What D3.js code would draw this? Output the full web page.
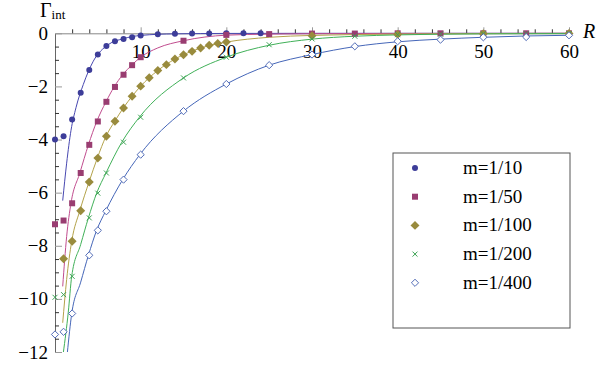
<!DOCTYPE html>
<html>
<head>
<meta charset="utf-8">
<script src="https://cdn.jsdelivr.net/npm/d3@7"></script>
</head>
<body style="margin:0">
<svg class="one"></svg>
<script>
// legend names
var labels = ["m=1/10","m=1/50","m=1/100","m=1/200","m=1/400"];

// data points
var blueX  = [0,1,2,3,4,5,6,7,8,9,10,12,14,16,18,20,22,24];
var blueY  = [-4.0,-3.88,-3.25,-2.24,-1.38,-0.80,-0.48,-0.30,-0.21,-0.15,-0.08,-0.04,-0.02,-0.01,-0.01,0,0,0];
var pinkX  = [0,1,2,3,4,5,6,7,8,9,10,15,20,25,30,35,40,45,50,55,60];
var pinkY  = [-7.19,-7.05,-6.40,-5.26,-4.2,-3.32,-2.58,-2.02,-1.56,-1.20,-0.90,-0.28,-0.06,-0.03,-0.01,-0.01,0,0,0,0,0];
var goldX  = [1,2,3,4,5,6,7,8,9,10,11,12,13,14,15,16,17,18,19,20,30,40,50,60];
var goldY  = [-8.49,-7.83,-6.68,-5.6,-4.7,-3.88,-3.31,-2.81,-2.37,-1.99,-1.67,-1.40,-1.18,-0.97,-0.81,-0.68,-0.55,-0.45,-0.38,-0.33,-0.09,-0.04,-0.02,-0.01];
var greenX = [0,1,2,4,5,6,8,10,15,20,25,30,35,40,45,50,55,60];
var greenY = [-9.94,-9.84,-9.15,-6.95,-6.02,-5.26,-4.1,-3.16,-1.68,-0.90,-0.43,-0.21,-0.11,-0.05,-0.03,-0.02,-0.01,-0.01];
var lblueX = [0,1,2,4,5,6,8,10,15,20,25,30,35,40,45,50,55,60];
var lblueY = [-11.34,-11.24,-10.55,-8.36,-7.42,-6.7,-5.51,-4.57,-2.93,-1.91,-1.2,-0.8,-0.49,-0.3,-0.24,-0.15,-0.14,-0.075];

// fitted curves
var blueFitX  = [0.9,1.36,1.87,2.45,3.3,4.47,6.2,8,10,14,20,30,60];
var blueFitY  = [-6.3,-4.89,-3.65,-2.8,-1.93,-1.05,-0.43,-0.2,-0.08,-0.02,-0.005,0,0];
var pinkFitX  = [0.9,1.36,1.87,2.9,3.9,4.87,5.95,6.9,7.9,8.95,10,12,15,20,25,30,40,60];
var pinkFitY  = [-9.53,-7.65,-6.39,-5.26,-4.2,-3.32,-2.58,-2.02,-1.56,-1.2,-0.9,-0.55,-0.28,-0.07,-0.03,-0.015,-0.005,0];
var goldFitX  = [0.9,1.36,1.95,2.9,3.97,4.94,5.95,7,8,9,10,12,14,16,18,20,25,30,40,50,60];
var goldFitY  = [-10.9,-9.27,-7.83,-6.68,-5.6,-4.7,-3.88,-3.3,-2.8,-2.37,-1.99,-1.40,-0.97,-0.67,-0.46,-0.33,-0.15,-0.08,-0.03,-0.01,0];
var greenFitX = [0.97,1.55,1.95,3,3.9,4.86,5.95,7.8,9.85,15,20,25,30,35,40,50,60];
var greenFitY = [-12.03,-10.5,-9.15,-7.95,-6.95,-6.02,-5.26,-4.1,-3.16,-1.68,-0.9,-0.45,-0.22,-0.11,-0.06,-0.02,-0.01];
var lblueFitX = [1.44,1.95,3,3.9,4.86,5.9,7.9,9.9,15,20,25,30,35,40,45,50,55,60];
var lblueFitY = [-12.03,-10.56,-9.37,-8.36,-7.42,-6.7,-5.51,-4.57,-2.93,-1.91,-1.2,-0.8,-0.5,-0.32,-0.22,-0.15,-0.1,-0.075];

var xTicks = [10,20,30,40,50,60];
var yTicks = [0,-2,-4,-6,-8,-10,-12];

var markColors = ["#3d3d99","#993d71","#998b3d","#3da354","#4a66b3"];
var lineColors = ["#4848b0","#c04c8e","#b3a24a","#40b058","#4566b8"];

var svg = d3.select(".one").attr("width",600).attr("height",375)
            .attr("font-family","Liberation Serif");

var xScale = d3.scaleLinear().domain([0,60]).range([55,569]);
var yScale = d3.scaleLinear().domain([-12,0]).range([352,33.3]);

// axes (drop d3's own sans-serif font attribute on the axis groups)
var xMinor = d3.range(2,60,2).filter(function(v){return v%10!=0;});
svg.append("g").attr("transform","translate(0,"+yScale(0)+")")
   .call(d3.axisTop(xScale).tickValues(xMinor).tickSize(4).tickFormat("").tickSizeOuter(0))
   .call(function(g){ g.select(".domain").attr("stroke","#888"); g.selectAll(".tick line").attr("stroke","#333"); });
svg.append("g").attr("transform","translate(0,"+yScale(0)+")")
   .call(d3.axisTop(xScale).tickValues(xTicks).tickSize(6).tickFormat(""))
   .call(function(g){ g.select(".domain").remove(); g.selectAll(".tick line").attr("stroke","#999"); });
svg.append("g").attr("transform","translate(0,"+yScale(0)+")")
   .call(d3.axisBottom(xScale).tickValues(xTicks).tickSize(0).tickPadding(11))
   .attr("font-family",null).attr("font-size",null)
   .call(function(g){ g.select(".domain").remove();
     g.selectAll("text").attr("fill","#000").attr("font-family","Liberation Serif").attr("font-size",19); });

var yMinor = d3.range(-11.5,0,0.5).filter(function(v){return v%2!=0;});
svg.append("g").attr("transform","translate("+xScale(0)+",0)")
   .call(d3.axisRight(yScale).tickValues(yMinor).tickSize(4).tickFormat("").tickSizeOuter(0))
   .call(function(g){ g.select(".domain").attr("stroke","#666"); g.selectAll(".tick line").attr("stroke","#333"); });
svg.append("g").attr("transform","translate("+xScale(0)+",0)")
   .call(d3.axisRight(yScale).tickValues(yTicks).tickSize(7).tickFormat(""))
   .call(function(g){ g.select(".domain").remove(); g.selectAll(".tick line").attr("stroke","#999"); });
svg.append("g").attr("transform","translate("+xScale(0)+",0)")
   .call(d3.axisLeft(yScale).tickValues(yTicks).tickSize(0).tickPadding(7).tickFormat(d3.format("d")))
   .attr("font-family",null).attr("font-size",null)
   .call(function(g){ g.select(".domain").remove();
     g.selectAll("text").attr("fill","#000").attr("font-family","Liberation Serif").attr("font-size",19); });

// axis titles
var gt = svg.append("text").attr("x",40).attr("y",17).attr("font-size",20).attr("font-family","Liberation Serif");
gt.append("tspan").text("Γ");
gt.append("tspan").attr("font-size",13).attr("dy",2).text("int");
svg.append("text").attr("x",583).attr("y",38).attr("font-size",20).attr("font-family","Liberation Serif")
   .attr("font-style","italic").text("R");

// clip for the curves
svg.append("clipPath").attr("id","plotclip").append("rect")
   .attr("x",xScale(0)).attr("y",yScale(0)-3).attr("width",xScale(60)-xScale(0)+2).attr("height",yScale(-12)-yScale(0)+3);

var fits = [[blueFitX,blueFitY],[pinkFitX,pinkFitY],[goldFitX,goldFitY],[greenFitX,greenFitY],[lblueFitX,lblueFitY]];
var pts  = [[blueX,blueY],[pinkX,pinkY],[goldX,goldY],[greenX,greenY],[lblueX,lblueY]];

var curveLine = d3.line().x(function(d){return xScale(d[0]);}).y(function(d){return yScale(d[1]);}).curve(d3.curveMonotoneX);

var curves = svg.append("g").attr("clip-path","url(#plotclip)");
fits.forEach(function(f,i){
  curves.append("path")
        .datum(d3.zip(f[0],f[1]))
        .attr("d",curveLine)
        .attr("fill","none")
        .attr("stroke",lineColors[i])
        .attr("stroke-width",1);
});

// marker drawing
var shapes = [
  function(g){ g.append("circle").attr("r",3).attr("fill",markColors[0]); },
  function(g){ g.append("rect").attr("x",-3).attr("y",-3).attr("width",6).attr("height",6).attr("fill",markColors[1]); },
  function(g){ g.append("path").attr("d",d3.symbol(d3.symbolSquare,40)()).attr("transform","rotate(45)").attr("fill",markColors[2]); },
  function(g){ g.append("path").attr("d","M-2.5,-2.5L2.5,2.5M-2.5,2.5L2.5,-2.5").attr("fill","none").attr("stroke",markColors[3]).attr("stroke-width",1); },
  function(g){ g.append("path").attr("d",d3.symbol(d3.symbolSquare,26)()).attr("transform","rotate(45)").attr("fill","#fff").attr("stroke",markColors[4]).attr("stroke-width",0.9); }
];

pts.forEach(function(p,i){
  svg.append("g").selectAll("g")
     .data(d3.zip(p[0],p[1]))
     .enter()
     .append("g")
     .attr("transform",function(d){return "translate("+xScale(d[0])+","+yScale(d[1])+")";})
     .each(function(){ shapes[i](d3.select(this)); });
});

// legend
var legend = svg.append("g").attr("transform","translate(393,153)");
legend.append("rect").attr("x",0).attr("y",0).attr("width",177).attr("height",175)
      .attr("fill","#fff").attr("stroke","#555").attr("stroke-width",1);
var rows = legend.selectAll("g.row").data(labels).enter().append("g")
      .attr("class","row")
      .attr("transform",function(d,i){return "translate(0,"+(15+i*28.7)+")";});
rows.each(function(d,i){
  var m = d3.select(this).append("g").attr("transform","translate(22,0)");
  shapes[i](m);
});
rows.append("text").attr("x",70).attr("y",6).attr("font-size",19).attr("font-family","Liberation Serif")
    .text(function(d){return d;});
</script>
</body>
</html>
